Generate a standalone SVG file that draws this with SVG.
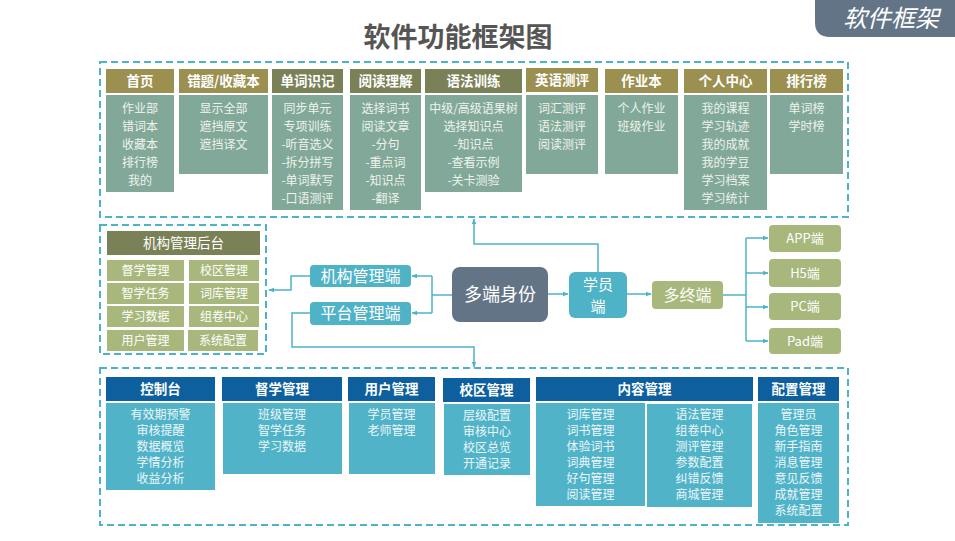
<svg xmlns="http://www.w3.org/2000/svg" width="955" height="541" viewBox="0 0 955 541">
<defs>
<style>
text{font-family:"Noto Sans CJK SC","Liberation Sans",sans-serif;text-anchor:middle}
.dash{fill:none;stroke:#4db3c8;stroke-width:2;stroke-dasharray:7 4}
.hg{fill:#9b904f}
.hd{fill:#7b8157}
.tb{fill:#82a899}
.ht{fill:#fff;font-size:13.5px;font-weight:bold}
.bt{fill:#eef4ec;font-size:12px}
.bh{fill:#0d5f9e}
.bb{fill:#50b3c8}
.bbt{fill:#eef7fa;font-size:12px}
.ol{fill:#a8b87c}
.olt{fill:#fff;font-size:12px}
.cy{fill:#4fb3c8}
.big{fill:#fff;font-size:16px}
.con{fill:none;stroke:#4db3c8;stroke-width:1.5}
</style>
<marker id="ar" viewBox="0 0 10 10" refX="9" refY="5" markerWidth="6" markerHeight="6" orient="auto" markerUnits="userSpaceOnUse">
<path d="M0,1 L10,5 L0,9 Z" fill="#4db3c8"/>
</marker>
</defs>
<rect width="955" height="541" fill="#fff"/>

<g id="banner">
<path d="M815,0 H955 V37 H830 Q815,37 815,22 Z" fill="#627486"/>
<text x="891" y="27" style="fill:#fff;font-size:24px;font-style:italic">软件框架</text>
</g>
<g id="title">
<text x="458" y="47" style="fill:#555;font-size:27px;font-weight:bold">软件功能框架图</text>
</g>

<!-- Top section -->
<g id="top-frame"><rect class="dash" x="100" y="62" width="748" height="155"/></g>

<g id="n-shouye">
<rect class="hg" x="106" y="69" width="68" height="24"/>
<text class="ht" x="140" y="86">首页</text>
<rect class="tb" x="106" y="95" width="68" height="97"/>
<text class="bt" x="140" y="113">作业部</text><text class="bt" x="140" y="131">错词本</text><text class="bt" x="140" y="149">收藏本</text><text class="bt" x="140" y="167">排行榜</text><text class="bt" x="140" y="185">我的</text>
</g>
<g id="n-cuoti">
<rect class="hg" x="179" y="69" width="89" height="24"/>
<text class="ht" x="223.5" y="86">错题/收藏本</text>
<rect class="tb" x="179" y="95" width="89" height="79"/>
<text class="bt" x="223.5" y="113">显示全部</text><text class="bt" x="223.5" y="131">遮挡原文</text><text class="bt" x="223.5" y="149">遮挡译文</text>
</g>
<g id="n-danci">
<rect class="hd" x="272" y="69" width="71" height="24"/>
<text class="ht" x="307.5" y="86">单词识记</text>
<rect class="tb" x="272" y="95" width="71" height="115"/>
<text class="bt" x="307.5" y="113">同步单元</text><text class="bt" x="307.5" y="131">专项训练</text><text class="bt" x="307.5" y="149">-听音选义</text><text class="bt" x="307.5" y="167">-拆分拼写</text><text class="bt" x="307.5" y="185">-单词默写</text><text class="bt" x="307.5" y="203">-口语测评</text>
</g>
<g id="n-yuedu">
<rect class="hd" x="350" y="69" width="71" height="24"/>
<text class="ht" x="385.5" y="86">阅读理解</text>
<rect class="tb" x="350" y="95" width="71" height="115"/>
<text class="bt" x="385.5" y="113">选择词书</text><text class="bt" x="385.5" y="131">阅读文章</text><text class="bt" x="385.5" y="149">-分句</text><text class="bt" x="385.5" y="167">-重点词</text><text class="bt" x="385.5" y="185">-知识点</text><text class="bt" x="385.5" y="203">-翻译</text>
</g>
<g id="n-yufa">
<rect class="hd" x="425" y="69" width="97" height="24"/>
<text class="ht" x="473.5" y="86">语法训练</text>
<rect class="tb" x="425" y="95" width="97" height="97"/>
<text class="bt" x="473.5" y="113">中级/高级语果树</text><text class="bt" x="473.5" y="131">选择知识点</text><text class="bt" x="473.5" y="149">-知识点</text><text class="bt" x="473.5" y="167">-查看示例</text><text class="bt" x="473.5" y="185">-关卡测验</text>
</g>
<g id="n-ceping">
<rect class="hg" x="526" y="68" width="72" height="24"/>
<text class="ht" x="562" y="85">英语测评</text>
<rect class="tb" x="526" y="95" width="72" height="79"/>
<text class="bt" x="562" y="113">词汇测评</text><text class="bt" x="562" y="131">语法测评</text><text class="bt" x="562" y="149">阅读测评</text>
</g>
<g id="n-zuoye">
<rect class="hg" x="605" y="69" width="73" height="24"/>
<text class="ht" x="641.5" y="86">作业本</text>
<rect class="tb" x="605" y="95" width="73" height="79"/>
<text class="bt" x="641.5" y="113">个人作业</text><text class="bt" x="641.5" y="131">班级作业</text>
</g>
<g id="n-geren">
<rect class="hg" x="684" y="69" width="83" height="24"/>
<text class="ht" x="725.5" y="86">个人中心</text>
<rect class="tb" x="684" y="95" width="83" height="115"/>
<text class="bt" x="725.5" y="113">我的课程</text><text class="bt" x="725.5" y="131">学习轨迹</text><text class="bt" x="725.5" y="149">我的成就</text><text class="bt" x="725.5" y="167">我的学豆</text><text class="bt" x="725.5" y="185">学习档案</text><text class="bt" x="725.5" y="203">学习统计</text>
</g>
<g id="n-paihang">
<rect class="hg" x="770" y="69" width="73" height="24"/>
<text class="ht" x="806.5" y="86">排行榜</text>
<rect class="tb" x="770" y="95" width="73" height="79"/>
<text class="bt" x="806.5" y="113">单词榜</text><text class="bt" x="806.5" y="131">学时榜</text>
</g>

<!-- Middle left admin box -->
<g id="n-jigou-houtai">
<rect class="dash" x="100" y="225" width="166" height="129"/>
<rect class="hd" x="107" y="231" width="153" height="24"/>
<text x="183.5" y="248" style="fill:#fff;font-size:13.5px">机构管理后台</text>
<rect class="ol" x="107" y="260" width="77" height="21"/><text class="olt" x="145.5" y="275">督学管理</text>
<rect class="ol" x="189" y="260" width="70" height="21"/><text class="olt" x="224" y="275">校区管理</text>
<rect class="ol" x="107" y="283" width="77" height="21"/><text class="olt" x="145.5" y="298">智学任务</text>
<rect class="ol" x="189" y="283" width="70" height="21"/><text class="olt" x="224" y="298">词库管理</text>
<rect class="ol" x="107" y="306" width="77" height="21"/><text class="olt" x="145.5" y="321">学习数据</text>
<rect class="ol" x="189" y="306" width="70" height="21"/><text class="olt" x="224" y="321">组卷中心</text>
<rect class="ol" x="107" y="330" width="77" height="21"/><text class="olt" x="145.5" y="345">用户管理</text>
<rect class="ol" x="188" y="330" width="70" height="21"/><text class="olt" x="223" y="345">系统配置</text>
</g>

<g id="n-jigou"><rect class="cy" x="310" y="265" width="101" height="22" rx="4"/><text class="big" x="360.5" y="282">机构管理端</text></g>
<g id="n-pingtai"><rect class="cy" x="310" y="302" width="101" height="23" rx="4"/><text class="big" x="360.5" y="319">平台管理端</text></g>
<g id="n-duoduan"><rect x="452" y="267" width="96" height="55" rx="8" fill="#637486"/><text x="500" y="301" style="fill:#fff;font-size:18px">多端身份</text></g>
<g id="n-xueyuan"><rect class="cy" x="569" y="272" width="58" height="46" rx="6"/><text x="598" y="290" style="fill:#fff;font-size:15px">学员</text><text x="598" y="312" style="fill:#fff;font-size:15px">端</text></g>
<g id="n-duozhong"><rect class="ol" x="652" y="281" width="71" height="28" rx="4"/><text class="big" x="687.5" y="301">多终端</text></g>
<g id="n-app"><rect class="ol" x="769" y="225" width="72" height="27" rx="4"/><text x="805" y="243" style="fill:#fff;font-size:13px">APP端</text></g>
<g id="n-h5"><rect class="ol" x="769" y="259" width="72" height="28" rx="4"/><text x="805" y="278" style="fill:#fff;font-size:13px">H5端</text></g>
<g id="n-pc"><rect class="ol" x="769" y="293" width="72" height="27" rx="4"/><text x="805" y="311" style="fill:#fff;font-size:13px">PC端</text></g>
<g id="n-pad"><rect class="ol" x="769" y="328" width="72" height="26" rx="4"/><text x="805" y="346" style="fill:#fff;font-size:13px">Pad端</text></g>

<!-- Bottom section -->
<g id="bottom-frame"><rect class="dash" x="100" y="368" width="748" height="157"/></g>

<g id="n-kongzhi">
<rect class="bh" x="106" y="377" width="109" height="24"/><text class="ht" x="160.5" y="394">控制台</text>
<rect class="bb" x="106" y="403" width="109" height="87"/>
<text class="bbt" x="160.5" y="419">有效期预警</text><text class="bbt" x="160.5" y="435">审核提醒</text><text class="bbt" x="160.5" y="451">数据概览</text><text class="bbt" x="160.5" y="467">学情分析</text><text class="bbt" x="160.5" y="483">收益分析</text>
</g>
<g id="n-duxue">
<rect class="bh" x="222" y="377" width="120" height="24"/><text class="ht" x="282" y="394">督学管理</text>
<rect class="bb" x="223" y="403" width="119" height="71"/>
<text class="bbt" x="282" y="419">班级管理</text><text class="bbt" x="282" y="435">智学任务</text><text class="bbt" x="282" y="451">学习数据</text>
</g>
<g id="n-yonghu">
<rect class="bh" x="348" y="377" width="87" height="24"/><text class="ht" x="391.5" y="394">用户管理</text>
<rect class="bb" x="349" y="403" width="86" height="71"/>
<text class="bbt" x="391.5" y="419">学员管理</text><text class="bbt" x="391.5" y="435">老师管理</text>
</g>
<g id="n-xiaoqu">
<rect class="bh" x="443" y="378" width="87" height="24"/><text class="ht" x="486.5" y="395">校区管理</text>
<rect class="bb" x="444" y="404" width="86" height="71"/>
<text class="bbt" x="487" y="420">层级配置</text><text class="bbt" x="487" y="436">审核中心</text><text class="bbt" x="487" y="452">校区总览</text><text class="bbt" x="487" y="468">开通记录</text>
</g>
<g id="n-neirong">
<rect class="bh" x="536" y="377" width="217" height="24"/><text class="ht" x="644.5" y="394">内容管理</text>
<rect class="bb" x="536" y="403" width="109" height="103"/>
<text class="bbt" x="590.5" y="419">词库管理</text><text class="bbt" x="590.5" y="435">词书管理</text><text class="bbt" x="590.5" y="451">体验词书</text><text class="bbt" x="590.5" y="467">词典管理</text><text class="bbt" x="590.5" y="483">好句管理</text><text class="bbt" x="590.5" y="499">阅读管理</text>
<rect class="bb" x="647" y="404" width="105" height="103"/>
<text class="bbt" x="699.5" y="419">语法管理</text><text class="bbt" x="699.5" y="435">组卷中心</text><text class="bbt" x="699.5" y="451">测评管理</text><text class="bbt" x="699.5" y="467">参数配置</text><text class="bbt" x="699.5" y="483">纠错反馈</text><text class="bbt" x="699.5" y="499">商城管理</text>
</g>
<g id="n-peizhi">
<rect class="bh" x="758" y="377" width="81" height="24"/><text class="ht" x="798.5" y="394">配置管理</text>
<rect class="bb" x="758" y="403" width="81" height="120"/>
<text class="bbt" x="798.5" y="419">管理员</text><text class="bbt" x="798.5" y="435">角色管理</text><text class="bbt" x="798.5" y="451">新手指南</text><text class="bbt" x="798.5" y="467">消息管理</text><text class="bbt" x="798.5" y="483">意见反馈</text><text class="bbt" x="798.5" y="499">成就管理</text><text class="bbt" x="798.5" y="515">系统配置</text>
</g>

<g id="connectors">
<path class="con" d="M548,294 H568" marker-end="url(#ar)"/>
<path class="con" d="M627,294 H651" marker-end="url(#ar)"/>
<path class="con" d="M723,295 H746"/>
<path class="con" d="M746,238 V341"/>
<path class="con" d="M746,238 H768" marker-end="url(#ar)"/>
<path class="con" d="M746,273 H768" marker-end="url(#ar)"/>
<path class="con" d="M746,307 H768" marker-end="url(#ar)"/>
<path class="con" d="M746,341 H768" marker-end="url(#ar)"/>
<path class="con" d="M598,272 V244 H474 V219" marker-end="url(#ar)"/>
<path class="con" d="M452,295 H432"/>
<path class="con" d="M432,276 V313"/>
<path class="con" d="M432,276 H412" marker-end="url(#ar)"/>
<path class="con" d="M432,313 H412" marker-end="url(#ar)"/>
<path class="con" d="M310,276 H291 V290 H269" marker-end="url(#ar)"/>
<path class="con" d="M310,313 H292 V347 H474 V367" marker-end="url(#ar)"/>
</g>
</svg>
